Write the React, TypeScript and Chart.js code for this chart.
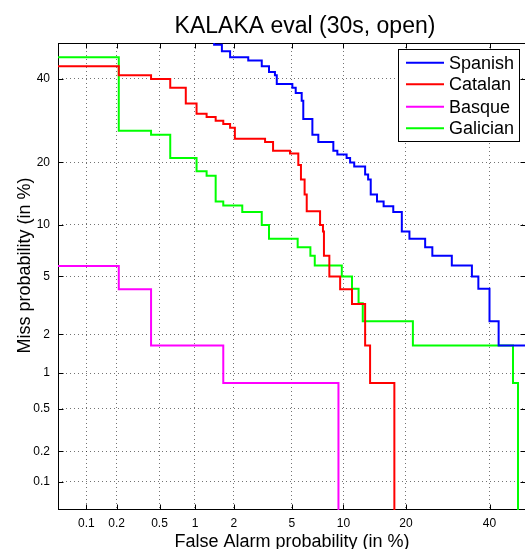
import { useEffect, useRef } from "react";
import { Chart, registerables } from "chart.js";

Chart.register(...registerables);

// ---------- data (percent) ----------
const TICK_VALUES = [0.1, 0.2, 0.5, 1, 2, 5, 10, 20, 40];
const TICK_LABELS = ["0.1", "0.2", "0.5", "1", "2", "5", "10", "20", "40"];
const AXIS_MIN = 0.05;
const AXIS_MAX = 50;

const TITLE = "KALAKA eval (30s, open)";
const X_TITLE = "False Alarm probability (in %)";
const Y_TITLE = "Miss probability (in %)";

const spanishFA = [1.42, 1.42, 1.63, 1.88, 2.55, 3.17, 3.55, 3.89, 4.0, 5.04, 5.29, 5.76, 5.89, 6.68, 7.24, 8.81, 9.27, 10.4, 10.85, 11.4, 12.95, 13.4, 13.8, 14.8, 15.9, 17.6, 19.2, 20.7, 24.0, 25.6, 30.2, 35.3, 37.0, 40.0, 42.5, 70];
const spanishMiss = [70, 49.5, 47.7, 46.0, 45.1, 43.5, 41.9, 41.0, 38.6, 37.6, 36.2, 34.2, 29.6, 25.9, 24.3, 22.4, 21.6, 20.9, 20.0, 19.2, 17.7, 16.8, 14.3, 13.2, 12.5, 11.7, 9.2, 8.4, 7.5, 6.7, 5.85, 5.0, 4.16, 2.5, 1.65, 1.65];

const catalanFA = [0.01, 0.21, 0.42, 0.62, 0.84, 1.03, 1.24, 1.46, 1.67, 1.88, 2.04, 3.34, 3.78, 4.87, 5.49, 5.7, 6.0, 6.18, 7.41, 7.7, 7.8, 8.37, 9.6, 11.1, 12.95, 13.7, 17.8];
const catalanMiss = [43.5, 41.0, 40.0, 37.6, 33.5, 30.9, 30.1, 29.2, 28.4, 27.5, 25.0, 24.3, 22.4, 21.8, 19.5, 16.8, 14.3, 11.8, 10.0, 9.2, 6.7, 5.0, 4.14, 3.3, 1.65, 0.83, 0.001];

const basqueFA = [0.01, 0.21, 0.42, 1.67, 9.4];
const basqueMiss = [5.8, 4.14, 1.65, 0.83, 0.001];

const galicianFA = [0.01, 0.21, 0.42, 0.62, 1.03, 1.24, 1.46, 1.67, 2.31, 3.17, 3.55, 5.44, 6.5, 6.9, 9.8, 11.1, 12.0, 12.6, 21.4, 46.5, 47.9];
const galicianMiss = [46.0, 26.8, 25.9, 20.9, 18.3, 17.5, 13.2, 12.6, 11.7, 10.0, 8.4, 7.5, 6.7, 5.85, 5.0, 4.16, 3.34, 2.5, 1.65, 0.83, 0.001];

const SERIES = [
  { label: "Spanish", fa: spanishFA, miss: spanishMiss, color: "#0000ff" },
  { label: "Catalan", fa: catalanFA, miss: catalanMiss, color: "#ff0000" },
  { label: "Basque", fa: basqueFA, miss: basqueMiss, color: "#ff00ff" },
  { label: "Galician", fa: galicianFA, miss: galicianMiss, color: "#00ff00" },
];

const FONT = "'Liberation Sans', Arial, Helvetica, sans-serif";

// inverse normal CDF (Acklam) -> DET (probit) axis transform
function probit(p: number): number {
  const a = [-3.969683028665376e1, 2.209460984245205e2, -2.759285104469687e2, 1.38357751867269e2, -3.066479806614716e1, 2.506628277459239];
  const b = [-5.447609879822406e1, 1.615858368580409e2, -1.556989798598866e2, 6.680131188771972e1, -1.328068155288572e1];
  const c = [-7.784894002430293e-3, -3.223964580411365e-1, -2.400758277161838, -2.549732539343734, 4.374664141464968, 2.938163982698783];
  const d = [7.784695709041462e-3, 3.224671290700398e-1, 2.445134137142996, 3.754408661907416];
  const plow = 0.02425;
  if (p < plow) {
    const q = Math.sqrt(-2 * Math.log(p));
    return (((((c[0] * q + c[1]) * q + c[2]) * q + c[3]) * q + c[4]) * q + c[5]) / ((((d[0] * q + d[1]) * q + d[2]) * q + d[3]) * q + 1);
  }
  if (p <= 1 - plow) {
    const q = p - 0.5;
    const r = q * q;
    return ((((((a[0] * r + a[1]) * r + a[2]) * r + a[3]) * r + a[4]) * r + a[5]) * q) / (((((b[0] * r + b[1]) * r + b[2]) * r + b[3]) * r + b[4]) * r + 1);
  }
  const q = Math.sqrt(-2 * Math.log(1 - p));
  return -(((((c[0] * q + c[1]) * q + c[2]) * q + c[3]) * q + c[4]) * q + c[5]) / ((((d[0] * q + d[1]) * q + d[2]) * q + d[3]) * q + 1);
}
const pt = (percent: number) => probit(percent / 100);

function staircase(fa: number[], miss: number[]) {
  const out: { x: number; y: number }[] = [];
  for (let i = 0; i < fa.length; i++) {
    if (i > 0) out.push({ x: pt(fa[i]), y: pt(miss[i - 1]) });
    out.push({ x: pt(fa[i]), y: pt(miss[i]) });
  }
  return out;
}

const decorPlugin = {
  id: "decor",
  beforeDatasetsDraw(chart: any) {
    const { ctx, chartArea: a, scales } = chart;
    ctx.save();
    ctx.strokeStyle = "#000";
    ctx.lineWidth = 1;
    ctx.beginPath();
    const L = Math.round(a.left) + 0.5;
    const R = Math.round(a.right) - 0.5;
    const T = Math.round(a.top) + 0.5;
    const B = Math.round(a.bottom) - 0.5;
    for (const v of TICK_VALUES) {
      const x = Math.round(scales.x.getPixelForValue(pt(v))) + 0.5;
      ctx.moveTo(x, B);
      ctx.lineTo(x, B - 5);
      ctx.moveTo(x, T);
      ctx.lineTo(x, T + 5);
      const y = Math.round(scales.y.getPixelForValue(pt(v))) + 0.5;
      ctx.moveTo(L, y);
      ctx.lineTo(L + 5, y);
      ctx.moveTo(R, y);
      ctx.lineTo(R - 5, y);
    }
    ctx.stroke();
    ctx.strokeRect(L, T, R - L, B - T);
    ctx.restore();
  },
  afterDraw(chart: any) {
    const { ctx } = chart;
    ctx.save();
    ctx.fillStyle = "#000";
    // title
    ctx.font = `23px ${FONT}`;
    ctx.textAlign = "center";
    ctx.textBaseline = "alphabetic";
    ctx.fillText(TITLE, 305, 32.5);
    // x title
    ctx.font = `18px ${FONT}`;
    ctx.fillText(X_TITLE, 292, 546.5);
    // y title
    ctx.save();
    ctx.translate(30, 265.5);
    ctx.rotate(-Math.PI / 2);
    ctx.fillText(Y_TITLE, 0, 0);
    ctx.restore();
    // legend
    const bl = 398.5, bt = 49.5, br = 519.5, bb = 141.5;
    ctx.fillStyle = "#fff";
    ctx.fillRect(bl, bt, br - bl, bb - bt);
    ctx.strokeStyle = "#000";
    ctx.lineWidth = 1;
    ctx.strokeRect(bl, bt, br - bl, bb - bt);
    ctx.font = `18px ${FONT}`;
    ctx.textAlign = "left";
    ctx.textBaseline = "middle";
    const rows = [62.7, 84.3, 106.7, 128.3];
    chart.data.datasets.forEach((ds: any, i: number) => {
      const y = rows[i];
      ctx.strokeStyle = ds.borderColor;
      ctx.lineWidth = 2;
      ctx.beginPath();
      ctx.moveTo(406, y);
      ctx.lineTo(444, y);
      ctx.stroke();
      ctx.fillStyle = "#000";
      ctx.fillText(ds.label, 449, y + 1);
    });
    ctx.restore();
  },
};

export default function App() {
  const ref = useRef<HTMLCanvasElement | null>(null);
  useEffect(() => {
    if (!ref.current) return;
    const tickCfg = (isX: boolean) => ({
      type: "linear" as const,
      min: pt(AXIS_MIN),
      max: pt(AXIS_MAX),
      afterBuildTicks: (scale: any) => {
        scale.ticks = TICK_VALUES.map((v) => ({ value: pt(v) }));
      },
      afterFit: (scale: any) => {
        if (isX) scale.height = 39;
        else scale.width = 58;
      },
      ticks: {
        autoSkip: false,
        maxRotation: 0,
        padding: isX ? 6 : 8,
        color: "#000",
        font: { size: 12, family: FONT },
        callback: (_v: any, i: number) => TICK_LABELS[i],
      },
      grid: {
        display: true,
        drawTicks: false,
        color: "rgba(0,0,0,0.55)",
        lineWidth: 1,
      },
      border: { display: false, dash: [1, 3] },
    });
    const chart = new Chart(ref.current, {
      type: "line",
      data: {
        datasets: SERIES.map((s) => ({
          label: s.label,
          data: staircase(s.fa, s.miss),
          borderColor: s.color,
          backgroundColor: s.color,
          borderWidth: 2,
          pointRadius: 0,
          fill: false,
          tension: 0,
        })),
      },
      options: {
        responsive: false,
        animation: false,
        devicePixelRatio: 1,
        layout: { padding: { left: 0, right: 1.5, top: 43, bottom: 0 } },
        plugins: { legend: { display: false }, tooltip: { enabled: false }, title: { display: false } },
        scales: { x: tickCfg(true), y: tickCfg(false) },
      },
      plugins: [decorPlugin],
    });
    return () => chart.destroy();
  }, []);
  return (
    <div style={{ position: "absolute", left: 0, top: 0, width: 525, height: 549, overflow: "hidden", background: "#fff" }}>
      <canvas ref={ref} width={527} height={549} style={{ display: "block" }} />
    </div>
  );
}
